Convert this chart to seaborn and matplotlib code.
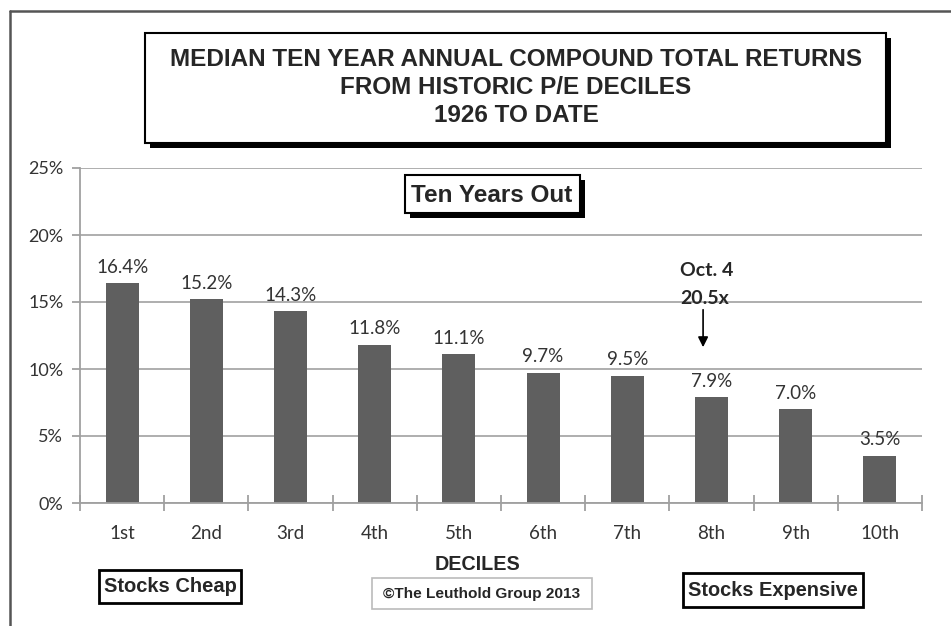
import matplotlib
matplotlib.use("Agg")
import matplotlib.pyplot as plt
import seaborn as sns
import pandas as pd
from matplotlib.patches import Rectangle
from matplotlib.lines import Line2D

deciles = ["1st", "2nd", "3rd", "4th", "5th", "6th", "7th", "8th", "9th", "10th"]
returns = [16.4, 15.2, 14.3, 11.8, 11.1, 9.7, 9.5, 7.9, 7.0, 3.5]
value_labels = ["16.4%", "15.2%", "14.3%", "11.8%", "11.1%", "9.7%", "9.5%", "7.9%", "7.0%", "3.5%"]
y_ticks = [0, 5, 10, 15, 20, 25]
y_tick_labels = ["0%", "5%", "10%", "15%", "20%", "25%"]

df = pd.DataFrame({"decile": deciles, "ret": returns})

sns.set_theme(style="white")
plt.rcParams["font.family"] = ["Lato", "DejaVu Sans"]

W, H = 951, 626
fig = plt.figure(figsize=(W / 100, H / 100), dpi=100)
fig.patch.set_facecolor("white")

def fx(px):
    return px / W

def fy(py):
    return 1 - py / H

ax = fig.add_axes([fx(80), fy(503), fx(922) - fx(80), fy(168) - fy(503)])
sns.barplot(data=df, x="decile", y="ret", color="#5f5f5f", saturation=1,
            width=0.39, ax=ax, edgecolor="none")
ax.set_xlim(-0.5, 9.5)
ax.set_ylim(0, 25)
ax.set_yticks(y_ticks)
ax.set_yticklabels(y_tick_labels, fontsize=13, color="#333333")
ax.yaxis.grid(True, color="#a8a8a8", linewidth=1.3)
ax.set_axisbelow(True)
for s in ["top", "right"]:
    ax.spines[s].set_visible(False)
for s in ["left", "bottom"]:
    ax.spines[s].set_color("#a0a0a0")
    ax.spines[s].set_linewidth(1.3)
ax.tick_params(axis="y", which="major", length=6, width=1.3, color="#a0a0a0",
               direction="out", left=True, pad=6)
ax.set_xticks([i for i in range(10)])
ax.set_xticklabels(deciles, fontsize=13.5, color="#333333")
ax.tick_params(axis="x", which="major", length=0, pad=16)
ax.set_xticks([i - 0.5 for i in range(11)], minor=True)
ax.tick_params(axis="x", which="minor", length=12, width=1.3, color="#a0a0a0",
               direction="inout", bottom=True)
ax.set_xlabel("")
ax.set_ylabel("")

for i, (v, lab) in enumerate(zip(returns, value_labels)):
    ax.annotate(lab, (i, v), xytext=(0, 5.5), textcoords="offset points",
                ha="center", va="bottom", fontsize=13.5, color="#333333")

# Outer frame lines
fig.add_artist(Line2D([fx(10), fx(10)], [fy(11), 0], color="#555555", lw=1.8))
fig.add_artist(Line2D([fx(10), 1], [fy(11), fy(11)], color="#555555", lw=1.8))

def shadow_box(x0, y0, x1, y1, off=5, lw=1.5):
    fig.add_artist(Rectangle((fx(x0 + off), fy(y1 + off)), fx(x1 - x0), fy(y0) - fy(y1),
                             facecolor="black", edgecolor="black", lw=0))
    fig.add_artist(Rectangle((fx(x0), fy(y1)), fx(x1 - x0), fy(y0) - fy(y1),
                             facecolor="white", edgecolor="black", lw=lw))

# Title box
shadow_box(145, 33, 886, 143, off=5)
title_lines = ["MEDIAN TEN YEAR ANNUAL COMPOUND TOTAL RETURNS",
               "FROM HISTORIC P/E DECILES", "1926 TO DATE"]
for k, t in enumerate(title_lines):
    fig.text(fx(516), fy(60 + 28 * k), t, ha="center", va="center",
             fontsize=17.5, fontweight="bold", family="Liberation Sans")

# Ten Years Out box
shadow_box(405, 175, 580, 213, off=5)
fig.text(fx(492), fy(195), "Ten Years Out", ha="center", va="center",
         fontsize=17.5, fontweight="bold", family="Liberation Sans")

# Oct 4 annotation
fig.text(fx(707), fy(271), "Oct. 4", ha="center", va="center",
         fontsize=14, fontweight="bold")
fig.text(fx(705), fy(298), "20.5x", ha="center", va="center",
         fontsize=14, fontweight="bold")
ax.annotate("", xy=(6.9, 11.42), xytext=(6.9, 14.63),
            arrowprops=dict(arrowstyle="-|>", color="black", lw=1.2,
                            mutation_scale=15))

# DECILES label
fig.text(fx(478), fy(565), "DECILES", ha="center", va="center",
         fontsize=14.2, fontweight="bold", family="Liberation Sans")

def double_box(x0, y0, x1, y1, text, fs, lw=2.0):
    fig.add_artist(Rectangle((fx(x0), fy(y1)), fx(x1 - x0), fy(y0) - fy(y1),
                             facecolor="white", edgecolor="black", lw=lw))
    fig.text(fx((x0 + x1) / 2), fy((y0 + y1) / 2), text, ha="center", va="center",
             fontsize=fs, fontweight="bold", family="Liberation Sans")

double_box(99, 570, 241, 603, "Stocks Cheap", 14.5)
double_box(683, 573, 863, 607, "Stocks Expensive", 14.4)

fig.add_artist(Rectangle((fx(372), fy(609)), fx(592 - 372), fy(578) - fy(609),
                         facecolor="white", edgecolor="#bbbbbb", lw=1.2))
fig.text(fx(482), fy(594), "©The Leuthold Group 2013", ha="center", va="center",
         fontsize=11.1, fontweight="bold", family="Liberation Sans")

fig.savefig("out.png", dpi=100, facecolor="white")
